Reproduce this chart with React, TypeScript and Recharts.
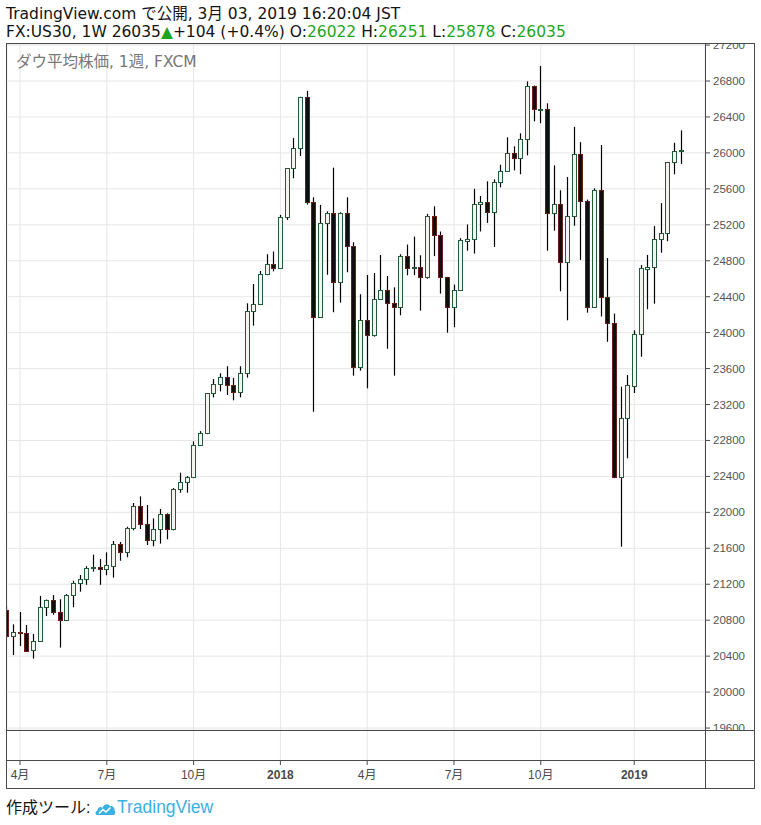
import React from 'react';
import { ComposedChart, Bar, XAxis, YAxis, CartesianGrid } from 'recharts';

// Weekly bars (week starting Monday), FX:US30, 1W
const weeks = [
  '2017-03-20','2017-03-27','2017-04-03','2017-04-10','2017-04-17','2017-04-24','2017-05-01','2017-05-08','2017-05-15','2017-05-22',
  '2017-05-29','2017-06-05','2017-06-12','2017-06-19','2017-06-26','2017-07-03','2017-07-10','2017-07-17','2017-07-24','2017-07-31',
  '2017-08-07','2017-08-14','2017-08-21','2017-08-28','2017-09-04','2017-09-11','2017-09-18','2017-09-25','2017-10-02','2017-10-09',
  '2017-10-16','2017-10-23','2017-10-30','2017-11-06','2017-11-13','2017-11-20','2017-11-27','2017-12-04','2017-12-11','2017-12-18',
  '2017-12-25','2018-01-01','2018-01-08','2018-01-15','2018-01-22','2018-01-29','2018-02-05','2018-02-12','2018-02-19','2018-02-26',
  '2018-03-05','2018-03-12','2018-03-19','2018-03-26','2018-04-02','2018-04-09','2018-04-16','2018-04-23','2018-04-30','2018-05-07',
  '2018-05-14','2018-05-21','2018-05-28','2018-06-04','2018-06-11','2018-06-18','2018-06-25','2018-07-02','2018-07-09','2018-07-16',
  '2018-07-23','2018-07-30','2018-08-06','2018-08-13','2018-08-20','2018-08-27','2018-09-03','2018-09-10','2018-09-17','2018-09-24',
  '2018-10-01','2018-10-08','2018-10-15','2018-10-22','2018-10-29','2018-11-05','2018-11-12','2018-11-19','2018-11-26','2018-12-03',
  '2018-12-10','2018-12-17','2018-12-24','2018-12-31','2019-01-07','2019-01-14','2019-01-21','2019-01-28','2019-02-04','2019-02-11',
  '2019-02-18','2019-02-25',
];

const opens = [
  20913,20620,20670,20657,20465,20565,20944,21022,20888,20804,
  21080,21210,21258,21385,21395,21370,21406,21644,21555,21822,
  22067,21867,21689,21811,21978,21811,22256,22337,22390,22746,
  22880,23325,23425,23503,23414,23336,23547,24237,24315,24649,
  24760,24716,25287,25829,26051,26619,25458,24171,25217,25328,
  24560,25328,24961,23614,24137,23970,24371,24471,24326,24282,
  24849,24716,24727,24616,25295,25084,24616,24289,24471,25025,
  25039,25428,25450,25339,25673,25795,25995,25940,26151,26741,
  26478,26485,25328,25428,24783,25295,25984,25461,24289,25584,
  24400,24104,22390,23047,23409,23981,24710,24727,25039,25106,
  25895,26022,
];

const highs = [
  20950,20754,20891,20746,20646,21070,21030,21080,21033,21090,
  21240,21303,21400,21530,21480,21555,21681,21670,21840,22104,
  22178,22082,21933,22037,21990,22270,22441,22404,22790,22904,
  23325,23484,23547,23626,23496,23626,24326,24541,24686,24872,
  24903,25310,25829,26165,26625,26690,25506,25421,25350,25836,
  25340,25506,25005,24427,24641,24664,24864,24630,24504,24872,
  24980,25069,24861,25322,25406,25125,24620,24535,25051,25203,
  25600,25520,25684,25706,25869,26173,26073,26218,26796,26750,
  26967,26552,25862,25584,25732,26290,26120,25480,25606,26088,
  24830,24212,23398,23528,24026,24752,24864,25186,25442,25900,
  26113,26251,
];

const lows = [
  20600,20412,20512,20450,20372,20560,20847,20860,20495,20790,
  20944,21117,21194,21340,21194,21300,21274,21462,21500,21800,
  21815,21637,21622,21652,21700,21800,22219,22219,22385,22740,
  22870,23280,23346,23306,23247,23280,23499,24078,24310,24640,
  24682,24710,25254,25718,25965,25425,23120,24165,24644,24227,
  24334,24672,23521,23577,23380,23955,24365,23821,23521,24193,
  24638,24640,24245,24600,24852,24434,24000,24060,24465,24912,
  24880,25126,25221,24954,25617,25790,25806,25762,25973,26352,
  26330,24912,25135,24460,24137,25190,24810,24222,24280,24180,
  23899,22380,21618,22601,23328,23732,24260,24322,24889,25017,
  25762,25878,
];

const closes = [
  20620,20665,20655,20461,20568,20944,21022,20888,20806,21080,
  21210,21255,21381,21392,21370,21418,21644,21555,21822,22067,
  21867,21689,21811,21978,21811,22256,22337,22390,22746,22880,
  23325,23425,23503,23414,23336,23547,24237,24315,24649,24760,
  24716,25287,25829,26051,26619,25458,24171,25217,25328,24560,
  25328,24961,23614,24137,23970,24371,24471,24326,24282,24849,
  24716,24728,24616,25295,25084,24616,24289,24471,25028,25040,
  25428,25450,25339,25673,25795,25995,25940,26151,26741,26485,
  26490,25328,25428,24783,25295,25984,25461,24289,25584,24400,
  24104,22390,23047,23417,23981,24716,24735,25039,25106,25895,
  26024,26035,
];

const timeTickIndex = [2, 15, 28, 41, 54, 67, 80, 94];
const timeTickLabels = ['4月', '7月', '10月', '2018', '4月', '7月', '10月', '2019'];
const yearTicks = ['2018', '2019'];

const priceTicks = [
  19600, 20000, 20400, 20800, 21200, 21600, 22000, 22400, 22800, 23200,
  23600, 24000, 24400, 24800, 25200, 25600, 26000, 26400, 26800, 27200,
];

const data = weeks.map((w, i) => ({
  i,
  week: w,
  o: opens[i],
  h: highs[i],
  l: lows[i],
  c: closes[i],
  range: [lows[i], highs[i]],
}));

const FONT = '"Liberation Sans", Arial, "Noto Sans CJK JP", sans-serif';
const HFONT = '"DejaVu Sans", "Noto Sans CJK JP", sans-serif';
const GRID = '#e6e6e6';
const FRAME = '#4a4a4a';

function Candle(props: any) {
  const { x, y, width, height, payload } = props;
  if (!payload || height == null || isNaN(y)) return null;
  const { o, h, l, c } = payload;
  const k = height / (h - l);
  const cx = Math.floor(x + width / 2) + 0.5;
  const yO = y + (h - o) * k;
  const yC = y + (h - c) * k;
  const up = c >= o;
  let top = Math.round(Math.min(yO, yC)) + 0.5;
  let bot = Math.round(Math.max(yO, yC)) + 0.5;
  if (bot - top < 1) bot = top + 1;
  return (
    <g>
      <line x1={cx} x2={cx} y1={y} y2={y + height} stroke="#000" strokeWidth={1.2} />
      <rect
        x={cx - 2}
        y={top}
        width={4}
        height={bot - top}
        fill={up ? '#f1f4f1' : '#0e0e0e'}
        stroke={up ? '#235a39' : '#6b1d17'}
        strokeWidth={1}
      />
    </g>
  );
}

function TimeTick(props: any) {
  const { x, payload } = props;
  const idx = timeTickIndex.indexOf(payload.value);
  const label = timeTickLabels[idx] ?? '';
  const isYear = yearTicks.includes(label);
  return (
    <g>
      <line x1={x} x2={x} y1={731} y2={760} stroke={GRID} strokeWidth={1} />
      <line x1={x} x2={x} y1={761} y2={765} stroke={FRAME} strokeWidth={1} />
      <text
        x={x}
        y={775}
        textAnchor="middle"
        dominantBaseline="central"
        fontSize={12}
        fontFamily={FONT}
        fontWeight={isYear ? 'bold' : 'normal'}
        fill="#4a4a4a"
      >
        {label}
      </text>
    </g>
  );
}

function PriceTick(props: any) {
  const { y, payload, index } = props;
  const id = `pclip-${index}`;
  return (
    <g>
      <defs>
        <clipPath id={id}>
          <rect x={700} y={44} width={54} height={686} />
        </clipPath>
      </defs>
      <g clipPath={`url(#${id})`}>
        <line x1={706} x2={710} y1={y} y2={y} stroke={FRAME} strokeWidth={1} />
        <text
          x={713}
          y={y}
          dominantBaseline="central"
          fontSize={11.5}
          fontFamily={FONT}
          fill="#555555"
        >
          {payload.value}
        </text>
      </g>
    </g>
  );
}

function Logo() {
  return (
    <svg width={21} height={15} viewBox="0 0 21 15" style={{ verticalAlign: 'middle', marginRight: 1 }}>
      <path
        d="M2 14 C0 14 0 10 2.5 9.5 C2.5 6 6 5 7.5 7 C8.5 3 13 2 15 5 C17.5 4.5 20 6.5 19.5 9.5 C21 10.5 20.5 14 18.5 14 Z"
        fill="#3bb0e3"
      />
      <path d="M4 12.5 L8 8.5 L11 11 L15.5 6.5" stroke="#ffffff" strokeWidth={1.6} fill="none" />
    </svg>
  );
}

export default function App() {
  const green = '#1ea51e';
  return (
    <div
      style={{
        position: 'absolute',
        left: 0,
        top: 0,
        width: 761,
        height: 825,
        background: '#ffffff',
        fontFamily: FONT,
        overflow: 'hidden',
      }}
    >
      <div style={{ position: 'absolute', left: 6, top: 5, fontSize: 15.5, lineHeight: '18px', color: '#131313', whiteSpace: 'nowrap', fontFamily: HFONT }}>
        TradingView.com で公開, 3月 03, 2019 16:20:04 JST
      </div>
      <div style={{ position: 'absolute', left: 6, top: 23, fontSize: 15.5, lineHeight: '18px', color: '#131313', whiteSpace: 'nowrap', fontFamily: HFONT }}>
        FX:US30, 1W 26035<span style={{ color: green }}>▲</span>+104 (+0.4%) O:<span style={{ color: green }}>26022</span> H:
        <span style={{ color: green }}>26251</span> L:<span style={{ color: green }}>25878</span> C:
        <span style={{ color: green }}>26035</span>
      </div>

      <div style={{ position: 'absolute', left: 0, top: 0 }}>
        <ComposedChart
          width={761}
          height={825}
          data={data}
          margin={{ top: 44, left: 7, right: 7, bottom: 37 }}
        >
          <CartesianGrid stroke={GRID} strokeWidth={1} />
          <XAxis
            dataKey="i"
            type="number"
            domain={[0.05, 104.6]}
            allowDataOverflow
            ticks={timeTickIndex}
            interval={0}
            height={58}
            axisLine={false}
            tickLine={false}
            tick={<TimeTick />}
          />
          <YAxis
            orientation="right"
            type="number"
            domain={[19578, 27212]}
            allowDataOverflow
            ticks={priceTicks}
            interval={0}
            width={49}
            axisLine={false}
            tickLine={false}
            tick={<PriceTick />}
          />
          <Bar
            dataKey="range"
            barSize={5}
            isAnimationActive={false}
            shape={(p: any) => <Candle {...p} />}
          />
        </ComposedChart>
      </div>

      <svg
        width={761}
        height={825}
        style={{ position: 'absolute', left: 0, top: 0, pointerEvents: 'none' }}
      >
        <g stroke={FRAME} strokeWidth={1} fill="none">
          <line x1={6} x2={755} y1={43.5} y2={43.5} />
          <line x1={6.5} x2={6.5} y1={43} y2={789} />
          <line x1={705.5} x2={705.5} y1={43} y2={789} />
          <line x1={754.5} x2={754.5} y1={43} y2={789} />
          <line x1={6} x2={755} y1={730.5} y2={730.5} />
          <line x1={6} x2={755} y1={760.5} y2={760.5} />
          <line x1={6} x2={755} y1={788.5} y2={788.5} />
        </g>
      </svg>

      <div style={{ position: 'absolute', left: 16, top: 53, fontSize: 15.5, lineHeight: '18px', color: '#777777', whiteSpace: 'nowrap', fontFamily: HFONT }}>
        ダウ平均株価, 1週, FXCM
      </div>

      <div style={{ position: 'absolute', left: 6, top: 797, fontSize: 16, lineHeight: '20px', color: '#131313', whiteSpace: 'nowrap' }}>
        作成ツール: <Logo /><span style={{ color: '#3bb0e3', fontSize: 17.5 }}>TradingView</span>
      </div>
    </div>
  );
}
